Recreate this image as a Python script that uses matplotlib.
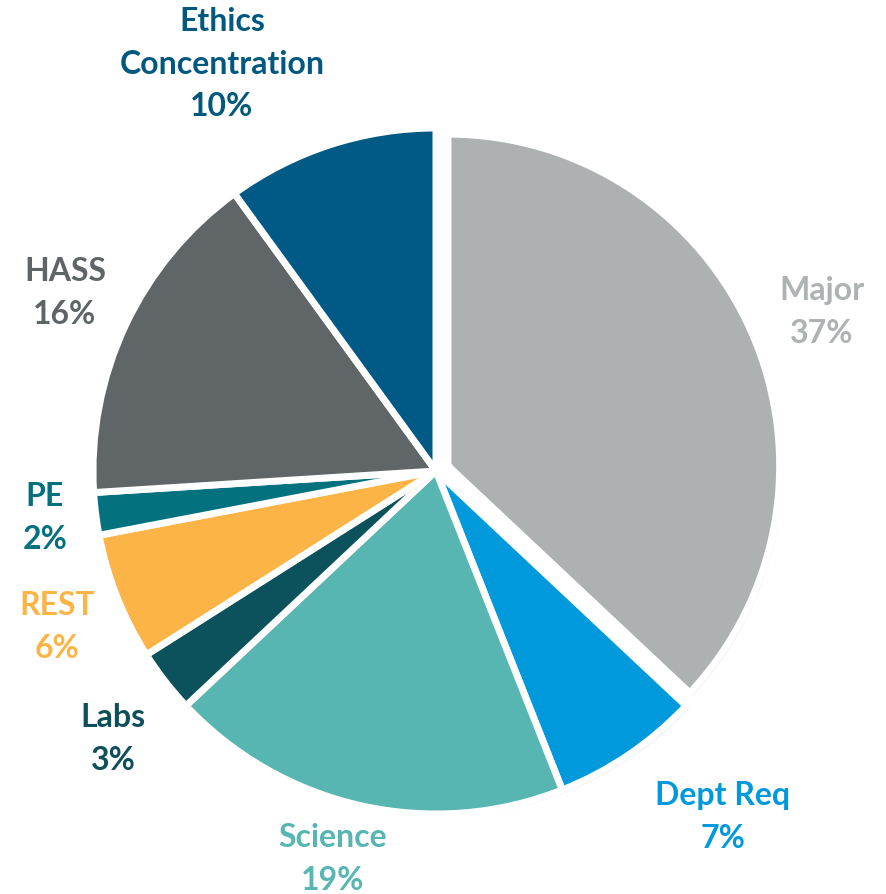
import matplotlib
matplotlib.use("Agg")
import matplotlib.pyplot as plt
import matplotlib.patheffects as pe

categories = ["Major", "Dept Req", "Science", "Labs", "REST", "PE", "HASS", "Ethics\nConcentration"]
values = [37, 7, 19, 3, 6, 2, 16, 10]
colors = ["#ADB1B1", "#009ADC", "#57B6B1", "#0C525C", "#FDB446", "#04717E", "#606667", "#015A86"]
label_colors = ["#AEB2B2", "#0099DB", "#57B6B1", "#0E4F5A", "#FDB446", "#03707D", "#5F6566", "#00587F"]

# label block centres in pixels (layout)
label_pos = [(822, 312), (723, 817), (333, 859), (113, 739), (57, 627), (45, 518), (65, 293), (222, 64)]

W, H = 887, 895
fig = plt.figure(figsize=(W / 100, H / 100), dpi=100)
cx, cy, R = 436, 472, 343
ax = fig.add_axes([(cx - R) / W, (H - cy - R) / H, 2 * R / W, 2 * R / H])

explode = [0.038, 0, 0, 0, 0, 0, 0, 0]
wedges, _ = ax.pie(values, colors=colors, startangle=90, counterclock=False,
                   explode=explode,
                   wedgeprops=dict(edgecolor="white", linewidth=5))
wedges[0].set_radius(0.967)
for w in wedges:
    w.set_path_effects([pe.SimplePatchShadow(offset=(2, -2), shadow_rgbFace="#888888", alpha=0.25),
                        pe.Normal()])
ax.set_xlim(-1, 1)
ax.set_ylim(-1, 1)
ax.set_aspect("equal")
ax.axis("off")

for cat, v, col, (px, py) in zip(categories, values, label_colors, label_pos):
    fig.text(px / W, 1 - py / H, f"{cat}\n{v}%", ha="center", va="center",
             color=col, fontsize=23, fontweight="bold", family=["Lato", "DejaVu Sans"],
             linespacing=1.55)

fig.savefig("out.png", dpi=100)
